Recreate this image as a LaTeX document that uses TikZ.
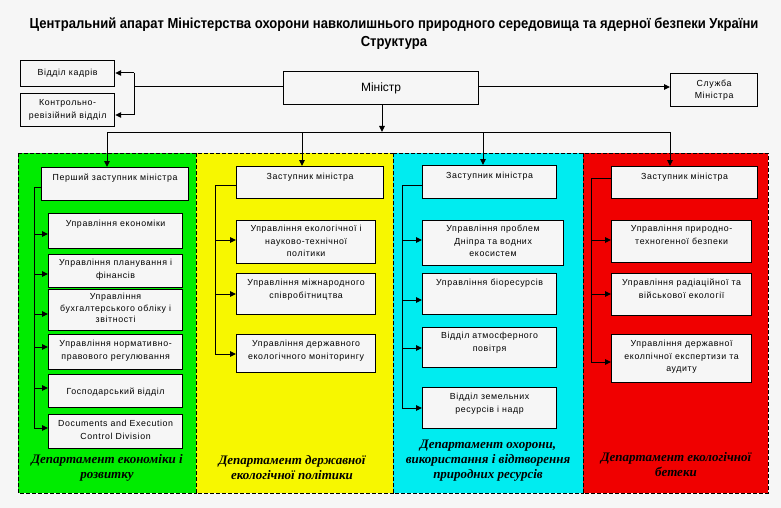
\documentclass[tikz,border=0pt]{standalone}
\usepackage{fontspec}
\setmainfont{Liberation Sans}
\newfontfamily\titlefont[FakeStretch=0.9]{Liberation Sans}
\newfontfamily\boxfont[LetterSpace=7]{Liberation Sans}
\newfontfamily\deptfont{Liberation Serif}
\usetikzlibrary{arrows.meta}
\definecolor{bgc}{RGB}{246,246,246}
\definecolor{pgreen}{RGB}{0,236,0}
\definecolor{pyellow}{RGB}{247,247,0}
\definecolor{pcyan}{RGB}{0,236,240}
\definecolor{pred}{RGB}{240,0,0}
\newcommand{\bx}[5]{\node[box, anchor=north west, minimum width={#4-#2}, minimum height={#5-#3}] (#1) at (#2,#3) {};}
\begin{document}
\begin{tikzpicture}[x=1pt,y=-1pt,
  box/.style={draw=black, line width=1.2pt, fill=bgc, inner sep=0pt},
  txt/.style={font=\boxfont\fontsize{8.8}{12.5}\selectfont, align=center, inner sep=0pt, anchor=north},
  conn/.style={line width=1pt},
  arr/.style={conn, -{Triangle[length=6pt,width=5.5pt]}},
  panel/.style={draw=black, dash pattern=on 4pt off 2pt, line width=1pt},
  dept/.style={font=\deptfont\bfseries\itshape\fontsize{13}{15}\selectfont, align=center, inner sep=0pt}
]
\fill[bgc] (0,0) rectangle (781,508);
\useasboundingbox (0,0) rectangle (781,508);

% title
\node[font=\titlefont\bfseries\fontsize{14.5}{18}\selectfont, align=center, inner sep=0pt] (title) at (394,34)
  {Центральний апарат Міністерства охорони навколишнього природного середовища та ядерної безпеки України\\Структура};

% panels
\path[panel, fill=pgreen] (18,153) rectangle (196,493);
\path[panel, fill=pyellow] (196,153) rectangle (393,493);
\path[panel, fill=pcyan] (393,153) rectangle (583,493);
\path[panel, fill=pred] (583,153) rectangle (768,493);

% top boxes
\bx{kadry}{20}{60}{114}{86}
\node[txt, anchor=center] (kadryt) at (kadry.center) {Відділ кадрів};
\bx{krv}{20}{93}{114}{126}
\node[txt, anchor=center] (krvt) at (krv.center) {Контрольно-\\ревізійний відділ};
\bx{min}{283}{71}{478}{104}
\node[font=\fontsize{12}{14}\selectfont, inner sep=0pt] (mint) at (min.center) {Міністр};
\bx{sluzh}{670}{73}{757}{106}
\node[txt, anchor=center] (sluzht) at (sluzh.center) {Служба\\Міністра};

% green
\bx{g0}{41}{167}{188}{200}
\bx{g1}{48}{213}{182}{248}
\bx{g2}{48}{254}{182}{287}
\bx{g3}{48}{289}{182}{330}
\bx{g4}{48}{334}{182}{369}
\bx{g5}{48}{374}{182}{407}
\bx{g6}{48}{414}{182}{448}
\node[txt] (g0t) at ([yshift=-6.5pt]g0.north) {Перший заступник міністра};
\node[txt] (g1t) at ([yshift=-6.5pt]g1.north) {Управління економіки};
\node[txt] (g2t) at ([yshift=-5pt]g2.north) {Управління планування і\\фінансів};
\node[txt, font=\boxfont\fontsize{8.8}{11.5}\selectfont] (g3t) at ([yshift=-4pt]g3.north) {Управління\\бухгалтерського обліку і\\звітності};
\node[txt] (g4t) at ([yshift=-6pt]g4.north) {Управління нормативно-\\правового регулювання};
\node[txt, anchor=center] (g5t) at ([yshift=-1pt]g5.center) {Господарський відділ};
\node[txt] (g6t) at ([yshift=-6pt]g6.north) {Documents and Execution\\Control Division};
\node[dept] (gd) at (107,467.5) {Департамент економіки і\\розвитку};

% yellow
\bx{y0}{236}{166}{383}{198}
\bx{y1}{236}{220}{375}{263}
\bx{y2}{236}{273}{375}{314}
\bx{y3}{236}{334}{375}{372}
\node[txt] (y0t) at ([yshift=-6.5pt]y0.north) {Заступник міністра};
\node[txt] (y1t) at ([yshift=-5pt]y1.north) {Управління екологічної і\\науково-технічної\\політики};
\node[txt] (y2t) at ([yshift=-6pt]y2.north) {Управління міжнародного\\співробітництва};
\node[txt] (y3t) at ([yshift=-6pt]y3.north) {Управління державного\\екологічного моніторингу};
\node[dept] (yd) at (292,467.5) {Департамент державної\\екологічної політики};

% cyan
\bx{c0}{422}{165}{556}{198}
\bx{c1}{422}{220}{563}{265}
\bx{c2}{422}{273}{556}{314}
\bx{c3}{422}{327}{556}{367}
\bx{c4}{422}{387}{556}{428}
\node[txt] (c0t) at ([yshift=-7pt]c0.north) {Заступник міністра};
\node[txt] (c1t) at ([yshift=-5pt]c1.north) {Управління проблем\\Дніпра та водних\\екосистем};
\node[txt] (c2t) at ([yshift=-6pt]c2.north) {Управління біоресурсів};
\node[txt] (c3t) at ([yshift=-5pt]c3.north) {Відділ атмосферного\\повітря};
\node[txt] (c4t) at ([yshift=-6pt]c4.north) {Відділ земельних\\ресурсів і надр};
\node[dept] (cd) at (488,461) {Департамент охорони,\\використання і відтворення\\природних ресурсів};

% red
\bx{r0}{611}{166}{757}{198}
\bx{r1}{611}{220}{751}{262}
\bx{r2}{611}{273}{751}{315}
\bx{r3}{611}{334}{751}{382}
\node[txt] (r0t) at ([yshift=-6.5pt]r0.north) {Заступник міністра};
\node[txt] (r1t) at ([yshift=-5pt]r1.north) {Управління природно-\\техногенної безпеки};
\node[txt] (r2t) at ([yshift=-6pt]r2.north) {Управління радіаційної та\\військової екології};
\node[txt] (r3t) at ([yshift=-6pt]r3.north) {Управління державної\\еколпічної експертизи та\\аудиту};
\node[dept] (rd) at (676,464.5) {Департамент екологічної\\бетеки};

% top connectors
\coordinate (lv) at (134,87);
\draw[conn] (min.west |- lv) -- (lv);
\draw[conn] (134,73) -- (134,115);
\draw[arr] (134,73) -- (kadry.east |- 0,73);
\draw[arr] (134,115) -- (krv.east |- 0,115);
\draw[arr] (min.east |- lv) -- (sluzh.west |- lv);
\coordinate (hl) at (382,132);
\draw[arr] (min.south -| hl) -- (hl);
\draw[conn] (107,132) -- (670,132);
\draw[arr] (107,132) -- (g0.north -| 107,0);
\draw[arr] (302,132) -- (y0.north -| 302,0);
\draw[arr] (483,132) -- (c0.north -| 483,0);
\draw[arr] (670,132) -- (r0.north -| 670,0);

% green connectors
\draw[conn] (g0.west |- 0,187) -- (34,187) -- (34,428);
\foreach \yy/\b in {234/g1,274/g2,314/g3,347/g4,388/g5,428/g6}
  \draw[arr] (34,\yy) -- (\b.west |- 0,\yy);
% yellow connectors
\draw[conn] (y0.west |- 0,185) -- (215,185) -- (215,354);
\foreach \yy/\b in {240/y1,294/y2,354/y3}
  \draw[arr] (215,\yy) -- (\b.west |- 0,\yy);
% cyan connectors
\draw[conn] (c0.west |- 0,185) -- (402,185) -- (402,408);
\foreach \yy/\b in {240/c1,300/c2,348/c3,408/c4}
  \draw[arr] (402,\yy) -- (\b.west |- 0,\yy);
% red connectors
\draw[conn] (r0.west |- 0,178) -- (591,178) -- (591,362);
\foreach \yy/\b in {240/r1,294/r2,362/r3}
  \draw[arr] (591,\yy) -- (\b.west |- 0,\yy);
\end{tikzpicture}
\end{document}
